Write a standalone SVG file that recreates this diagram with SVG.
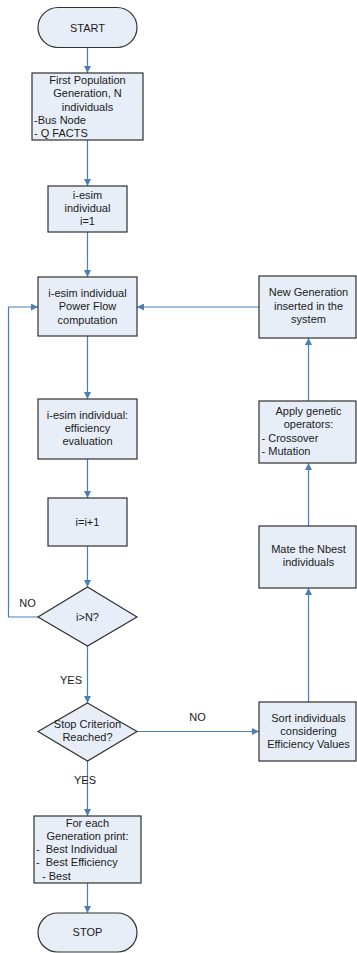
<svg xmlns="http://www.w3.org/2000/svg" width="357" height="953" viewBox="0 0 357 953">
<style>
.n{fill:#E8EEF8;stroke:#303030;stroke-width:1.2}
.c{fill:none;stroke:#4A7EBB;stroke-width:1.2}
text{font-family:"Liberation Sans",Arial,sans-serif;font-size:11px;fill:#1a1a1a}
.m{text-anchor:middle}
</style>
<defs>
<marker id="ah" viewBox="0 0 10 10" refX="10" refY="5" markerWidth="7" markerHeight="7" markerUnits="userSpaceOnUse" orient="auto">
<path d="M0,0 L10,5 L0,10 z" fill="#4A7EBB"/>
</marker>
</defs>
<rect width="357" height="953" fill="#fff"/>
<g id="connectors">
<path class="c" d="M87.5,47 V73" marker-end="url(#ah)"/>
<path class="c" d="M87.5,140 V186" marker-end="url(#ah)"/>
<path class="c" d="M87.5,232 V277" marker-end="url(#ah)"/>
<path class="c" d="M87.5,336 V399" marker-end="url(#ah)"/>
<path class="c" d="M87.5,459 V498" marker-end="url(#ah)"/>
<path class="c" d="M87.5,546 V587" marker-end="url(#ah)"/>
<path class="c" d="M38,617 H8.5 V307 H38" marker-end="url(#ah)"/>
<path class="c" d="M87.5,646 V703" marker-end="url(#ah)"/>
<path class="c" d="M87.5,761 V816" marker-end="url(#ah)"/>
<path class="c" d="M87.5,883 V913" marker-end="url(#ah)"/>
<path class="c" d="M137,731.5 H259" marker-end="url(#ah)"/>
<path class="c" d="M308.5,702 V588" marker-end="url(#ah)"/>
<path class="c" d="M308.5,526 V463" marker-end="url(#ah)"/>
<path class="c" d="M308.5,401 V338" marker-end="url(#ah)"/>
<path class="c" d="M259,307 H137" marker-end="url(#ah)"/>
<text x="27.5" y="607" class="m">NO</text>
<text x="71" y="684" class="m">YES</text>
<text x="85" y="784" class="m">YES</text>
<text x="197.5" y="721" class="m">NO</text>
</g>
<g id="start">
<rect class="n" x="38" y="7.5" width="99" height="40" rx="20" ry="20"/>
<text x="87.5" y="31.5" class="m">START</text>
</g>
<g id="first-population">
<rect class="n" x="32" y="73" width="111" height="67"/>
<text x="87.5" y="84" class="m">First Population</text>
<text x="87.5" y="97.3" class="m">Generation, N</text>
<text x="87.5" y="110.6" class="m">individuals</text>
<text x="34" y="123.9">-Bus Node</text>
<text x="34" y="137.2">- Q FACTS</text>
</g>
<g id="i-esim-init">
<rect class="n" x="48" y="186" width="79" height="46"/>
<text x="87.5" y="198.5" class="m">i-esim</text>
<text x="87.5" y="211.8" class="m">individual</text>
<text x="87.5" y="225.1" class="m">i=1</text>
</g>
<g id="power-flow">
<rect class="n" x="38" y="277" width="99" height="59"/>
<text x="87.5" y="297" class="m">i-esim individual</text>
<text x="87.5" y="310.3" class="m">Power Flow</text>
<text x="87.5" y="323.6" class="m">computation</text>
</g>
<g id="efficiency">
<rect class="n" x="38" y="399" width="99" height="60"/>
<text x="87.5" y="418.5" class="m">i-esim individual:</text>
<text x="87.5" y="431.8" class="m">efficiency</text>
<text x="87.5" y="445.1" class="m">evaluation</text>
</g>
<g id="increment">
<rect class="n" x="48" y="498" width="79" height="48"/>
<text x="87.5" y="526" class="m">i=i+1</text>
</g>
<g id="check-n">
<path class="n" d="M87.5,587 L137,617 L87.5,646 L38,617 Z"/>
<text x="87.5" y="621" class="m">i&gt;N?</text>
</g>
<g id="stop-criterion">
<path class="n" d="M87.5,703 L137,731.5 L87.5,761 L38,731.5 Z"/>
<text x="87.5" y="728.3" class="m">Stop Criterion</text>
<text x="87.5" y="741.3" class="m">Reached?</text>
</g>
<g id="print">
<rect class="n" x="34" y="816" width="107" height="67"/>
<text x="87.5" y="827" class="m">For each</text>
<text x="87.5" y="840" class="m">Generation print:</text>
<text x="36" y="853" xml:space="preserve">-  Best Individual</text>
<text x="36" y="866.3" xml:space="preserve">-  Best Efficiency</text>
<text x="39" y="879.6" xml:space="preserve"> - Best</text>
</g>
<g id="stop">
<rect class="n" x="38" y="913" width="99" height="39" rx="19.5" ry="19.5"/>
<text x="87.5" y="936" class="m">STOP</text>
</g>
<g id="new-generation">
<rect class="n" x="259" y="276" width="97" height="62"/>
<text x="308.5" y="296.3" class="m">New Generation</text>
<text x="308.5" y="309.6" class="m">inserted in the</text>
<text x="308.5" y="322.9" class="m">system</text>
</g>
<g id="genetic-operators">
<rect class="n" x="259" y="401" width="97" height="62"/>
<text x="308.5" y="415" class="m">Apply genetic</text>
<text x="308.5" y="428.3" class="m">operators:</text>
<text x="261.5" y="441.6">- Crossover</text>
<text x="261.5" y="454.9">- Mutation</text>
</g>
<g id="mate">
<rect class="n" x="259" y="526" width="97" height="62"/>
<text x="308.5" y="552.7" class="m">Mate the Nbest</text>
<text x="308.5" y="566" class="m">individuals</text>
</g>
<g id="sort">
<rect class="n" x="259" y="702" width="97" height="59"/>
<text x="308.5" y="721.7" class="m">Sort individuals</text>
<text x="308.5" y="735" class="m">considering</text>
<text x="308.5" y="748.3" class="m">Efficiency Values</text>
</g>
</svg>
